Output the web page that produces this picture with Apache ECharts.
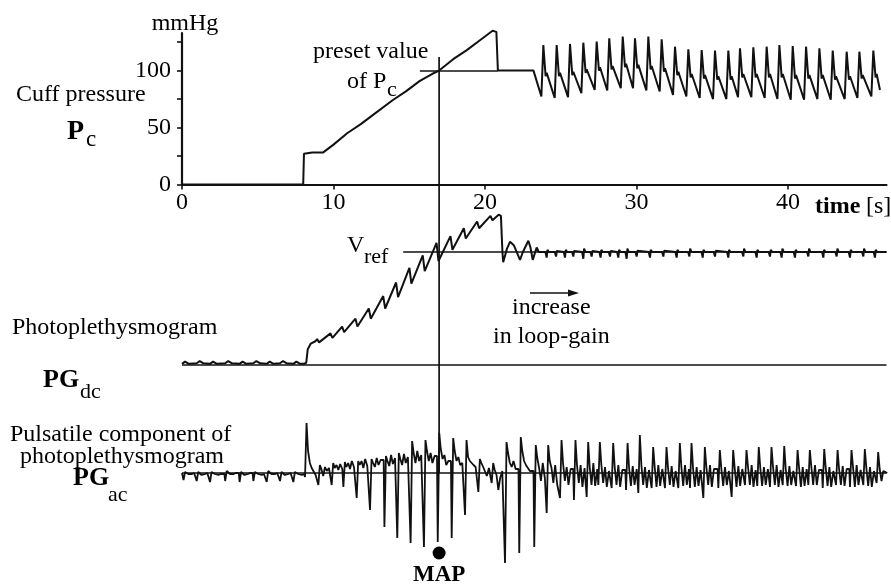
<!DOCTYPE html>
<html>
<head>
<meta charset="utf-8">
<script src="https://cdn.jsdelivr.net/npm/echarts@6/dist/echarts.min.js"></script>
<style>
html,body{margin:0;padding:0;background:#fff}
#c{width:891px;height:584px}
</style>
</head>
<body>
<div id="c"></div>
<script>
// ---------- Cuff pressure Pc (mmHg) ----------
// open-loop inflation ramp and hold at the preset value
const pcRampT = [0, 8.0, 8.05, 8.6, 9.3, 10.0, 10.9, 11.8, 12.7, 13.9, 14.8, 15.7, 16.5, 16.97, 17.9, 18.8, 19.6, 20.5, 20.75, 20.85, 23.2];
const pcRampV = [0, 0, 27, 28, 28, 35, 45, 53, 62, 74, 82, 91, 97, 100, 110, 118, 126, 135, 134, 100, 100];
// closed-loop beats: systolic peak instant, peak, preceding trough, dicrotic notch, rebound
const pcBeatT  = [23.85, 24.73, 25.61, 26.49, 27.37, 28.2, 29.09, 29.9, 30.78, 31.66, 32.54, 33.42, 34.3, 35.18, 36.06, 36.83, 37.71, 38.59, 39.43, 40.31, 41.19, 42.07, 42.95, 43.87, 44.71, 45.63];
const pcPeak   = [122.5, 122.5, 123.4, 124.5, 125.4, 128.3, 129.8, 128.3, 129.8, 127.5, 121, 118.6, 118.1, 117.5, 117.5, 119.5, 120.4, 121, 122.5, 121.6, 121, 119.5, 117.5, 116.6, 116.6, 117.5];
const pcTrough = [77.3, 75.9, 76.7, 80.2, 83.1, 82.5, 84.6, 84.6, 82.5, 81.6, 78.7, 77.3, 75.9, 75, 75, 76.7, 76.7, 75.9, 75, 74.4, 74.4, 75, 74.4, 75, 75.9, 77.3];
const pcNotch  = [95, 95, 96, 98, 100, 101, 103, 102, 101, 99, 96, 94, 93, 92, 92, 94, 94, 94, 94, 93, 93, 93, 92, 92, 93, 94];
const pcRebound = [98, 98, 99, 101, 103, 104, 106, 105, 104, 102, 99, 97, 96, 95, 95, 97, 97, 97, 97, 96, 96, 96, 95, 95, 96, 97];
const pcEnd = [46.07, 83];
const presetPc = 100;

// ---------- PGdc (arbitrary units: 0 = zero line, 100 = Vref) ----------
const vRef = 100;
const vRefStartT = 14.6;
const dcRestT    = [0, 0.97, 1.85, 2.85, 3.8, 4.71, 5.59, 6.47, 7.35];
const dcRestBase = [1, 1.5, 1, 1.5, 1, 1.5, 1, 1.5, 1];
const dcRestBump = [3, 3.5, 3, 3.5, 3, 3.5, 3, 3.5, 3];
const dcRiseT = [8.05, 8.2, 8.3, 8.5, 8.8];
const dcRiseV = [1, 2, 14, 19, 21];
const dcBeatT = [9.0, 9.88, 10.65, 11.53, 12.41, 13.36, 14.21, 15.09, 15.97, 16.88, 17.8, 18.68, 19.56, 20.44];
const dcHigh  = [23, 28, 34, 41, 50, 61, 73, 86, 97, 108, 114, 121, 127, 132];
const dcLow   = [20, 24, 29, 34, 41, 50, 60, 72, 83, 92, 102, 112, 121, 128];
const dcSwitchT = [20.9, 21.05, 21.15, 21.2, 21.45, 21.65, 21.9, 22.31, 22.5, 22.86, 23.0, 23.15, 23.41, 23.55];
const dcSwitchV = [133, 132, 100, 91, 103, 109, 106, 93, 100, 110, 104, 93, 104, 100];
const dcClampT    = [24.07, 24.69, 25.28, 25.83, 26.49, 27.04, 27.63, 28.25, 28.8, 29.35, 30.01, 30.89, 31.77, 32.65, 33.49, 34.37, 35.18, 36.06, 37.05, 37.93, 38.81, 39.58, 40.46, 41.34, 42.33, 43.21, 44.09, 44.97, 45.74];
const dcClampDip  = [95, 96, 95, 96, 94, 96, 95, 96, 95, 94, 96, 95, 96, 95, 96, 95, 96, 95, 96, 95, 96, 95, 95, 96, 95, 96, 95, 96, 95];
const dcClampBump = [102, 101, 102, 101, 103, 101, 102, 101, 102, 103, 101, 102, 101, 102, 103, 102, 101, 102, 103, 102, 102, 103, 102, 103, 102, 103, 102, 103, 102];

// ---------- PGac (arbitrary units, 0 = zero line) ----------
// per beat: trough instant, trough, peak, shoulder and four later samples
const acT = [0.1, 0.97, 1.85, 2.85, 3.8, 4.71, 5.59, 6.47, 7.35,
  8.12,
  9.0, 9.88, 10.65, 11.53, 12.41, 13.36, 14.21, 15.09, 15.97, 16.88, 17.8, 18.68, 19.56, 20.44,
  21.32, 22.26, 23.25,
  24.07, 24.95, 25.87, 26.71, 27.48, 28.36, 29.31, 30.12, 31.0, 31.88, 32.76, 33.53, 34.41, 35.4, 36.28, 37.16, 37.97, 38.81, 39.65, 40.53, 41.34, 42.29, 43.17, 44.09, 44.97, 45.85];
const acTrough = [-7, -8, -9, -8, -9, -8, -9, -8, -9,
  -4,
  -12, -12, -14, -25, -37, -54, -65, -70, -74, -69, -65, -42, -19, -10,
  -90, -80, -74,
  -40, -25, -27, -24, -12, -15, -17, -20, -15, -15, -15, -15, -25, -15, -24, -12, -13, -14, -12, -13, -12, -15, -12, -14, -12, -10];
const acPeak = [1, 1, 1, 2, 1, 1, 2, 1, 1,
  50,
  8, 10, 11, 12, 14, 17, 20, 32, 33, 40, 35, 33, 14, 10,
  31, 36, 28,
  28, 33, 33, 31, 31, 30, 30, 38, 26, 26, 30, 30, 26, 23, 23, 23, 26, 26, 27, 23, 23, 24, 23, 23, 24, 21];
const acShoulder = [0, 0, 0, 0, 0, 0, 0, 0, 0,
  22,
  4, 5, 6, 8, 10, 12, 14, 20, 22, 24, 22, 16, 10, 3,
  20, 22, 15,
  12, 10, 8, 6, 8, 6, 5, 8, 6, 5, 6, 5, 6, 4, 5, 6, 5, 6, 4, 5, 6, 5, 4, 6, 5, 4];
const acS1 = [-1, -2, -1, -1, -2, -1, -1, -2, -1,
  10,
  -3, 8, 10, 12, 6, 7, 8, 10, 12, 14, 12, 12, 6, -2,
  10, 12, 5,
  5, -8, -10, -12, -10, -12, -13, -12, -14, -12, -13, -14, -12, -13, -14, -12, -13, -12, -13, -14, -12, -13, -12, -14, -13, -8];
const acS2 = [0, -1, 0, 0, -1, 0, 0, -1, 0,
  5,
  6, 3, 4, 5, 15, 18, 19, 22, 20, 18, 16, 10, 4, -17,
  6, 8, -8,
  -10, 6, 8, 10, 6, 8, 7, 6, 8, 7, 8, 6, 8, 6, 7, 8, 6, 8, 7, 6, 8, 6, 7, 8, 6, 2];
const acS3 = [-1, -1, -2, -1, -1, -2, -1, -1, -2,
  3,
  2, 9, 12, 14, 8, 9, 10, 12, 10, 8, 8, 8, -3, -5,
  12, 10, 10,
  8, -12, -14, -13, -14, -14, -12, -15, -13, -14, -12, -13, -14, -12, -13, -14, -12, -14, -12, -13, -12, -14, -13, -12, -14, 0];
const acS4 = [0, 0, -1, 0, 0, -1, 0, 0, -1,
  -2,
  5, 4, 6, 7, 13, 15, 16, 18, 17, 12, 10, 6, 5, 2,
  4, 2, -5,
  -12, 4, 5, 4, 2, 3, 4, 3, 4, 2, 4, 3, 4, 2, 4, 3, 4, 3, 2, 4, 3, 2, 4, 3, 2, 0];

// mean arterial pressure marker
const mapT = 16.97;
const mapLevel = -80;

// axis ticks
const xTicks = [0, 10, 20, 30, 40];
const yTicks = [0, 25, 50, 75, 100, 125];
const yLabels = [0, 50, 100];
const X_MAX = 46.5;

// ---------- assemble the traces ----------
const pcData = pcRampT.map((t, i) => [t, pcRampV[i]]);
pcBeatT.forEach((t, i) => {
  pcData.push([t - 0.13, pcTrough[i]], [t, pcPeak[i]], [t + 0.15, pcNotch[i]], [t + 0.22, pcRebound[i]]);
});
pcData.push(pcEnd);

const dcData = [];
dcRestT.forEach((t, i) => {
  dcData.push([t, dcRestBase[i]], [t + 0.2, dcRestBump[i]], [t + 0.45, dcRestBase[i]]);
});
dcRiseT.forEach((t, i) => dcData.push([t, dcRiseV[i]]));
dcBeatT.forEach((t, i) => dcData.push([t - 0.08, dcHigh[i]], [t + 0.05, dcLow[i]]));
dcSwitchT.forEach((t, i) => dcData.push([t, dcSwitchV[i]]));
dcClampT.forEach((t, i) => {
  dcData.push([t - 0.08, vRef], [t, dcClampDip[i]], [t + 0.05, dcClampBump[i]], [t + 0.14, vRef]);
});
dcData.push([X_MAX, vRef]);

const acData = [[0, 0]];
acT.forEach((t, i) => {
  acData.push([t - 0.05, i ? acS4[i - 1] : 0], [t, acTrough[i]], [t + 0.1, acPeak[i]], [t + 0.2, acShoulder[i]],
              [t + 0.32, acS1[i]], [t + 0.44, acS2[i]], [t + 0.56, acS3[i]], [t + 0.7, acS4[i]]);
});

// ---------- chart ----------
const FONT = '"Liberation Serif", "Times New Roman", serif';
const INK = '#111';
const chart = echarts.init(document.getElementById('c'), null, {renderer: 'canvas'});

const traceStyle = {color: INK, width: 2};
const refLine = (a, b) => [{coord: a}, {coord: b}];
const markLineBase = {silent: true, symbol: 'none', label: {show: false}, lineStyle: {color: INK, width: 1.7, type: 'solid'}, animation: false};

const hiddenX = i => ({gridIndex: i, type: 'value', min: 0, max: X_MAX, show: false});

chart.setOption({
  animation: false,
  backgroundColor: '#fff',
  grid: [
    {left: 182, top: 33, width: 704.5, height: 151.5},
    {left: 182, top: 195.5, width: 704.5, height: 192.1},
    {left: 182, top: 413, width: 704.5, height: 160}
  ],
  xAxis: [
    {
      gridIndex: 0, type: 'value', min: 0, max: X_MAX,
      axisLine: {show: true, onZero: false, lineStyle: {color: INK, width: 2.2}},
      axisTick: {show: true, length: 5, customValues: xTicks, lineStyle: {color: INK, width: 1.6}},
      axisLabel: {customValues: xTicks, color: '#000', fontFamily: FONT, fontSize: 24, margin: 6},
      splitLine: {show: false}
    },
    hiddenX(1), hiddenX(2)
  ],
  yAxis: [
    {
      gridIndex: 0, type: 'value', min: 0, max: 133,
      axisLine: {show: true, onZero: false, lineStyle: {color: INK, width: 2.2}},
      axisTick: {show: true, length: 5, customValues: yTicks, lineStyle: {color: INK, width: 1.6}},
      axisLabel: {customValues: yLabels, color: '#000', fontFamily: FONT, fontSize: 24, margin: 11},
      splitLine: {show: false}
    },
    {gridIndex: 1, type: 'value', min: -20, max: 150, show: false},
    {gridIndex: 2, type: 'value', min: -100, max: 60, show: false}
  ],
  series: [
    {
      name: 'Pc', type: 'line', xAxisIndex: 0, yAxisIndex: 0, data: pcData,
      showSymbol: false, clip: false, lineStyle: traceStyle,
      markLine: Object.assign({}, markLineBase, {data: [refLine([15.7, presetPc], [20.85, presetPc])]})
    },
    {
      name: 'PGdc', type: 'line', xAxisIndex: 1, yAxisIndex: 1, data: dcData,
      showSymbol: false, clip: false, lineStyle: traceStyle,
      markLine: Object.assign({}, markLineBase, {data: [refLine([0, 0], [X_MAX, 0]), refLine([vRefStartT, vRef], [X_MAX, vRef])]})
    },
    {
      name: 'PGac', type: 'line', xAxisIndex: 2, yAxisIndex: 2, data: acData,
      showSymbol: false, clip: true, lineStyle: {color: INK, width: 1.8},
      markLine: Object.assign({}, markLineBase, {data: [refLine([0, 0], [X_MAX, 0])]})
    },
    {
      name: 'MAP', type: 'scatter', xAxisIndex: 2, yAxisIndex: 2, data: [[mapT, mapLevel]],
      symbolSize: 13, itemStyle: {color: '#000', opacity: 1},
      label: {show: true, position: 'bottom', distance: 4, formatter: 'MAP', color: '#000', opacity: 1,
              fontFamily: FONT, fontSize: 23, fontWeight: 'bold'}
    }
  ]
});

// ---------- annotations ----------
function txt(x, y, s, size, bold, align) {
  return {type: 'text', x: x, y: y, silent: true, z: 10,
    style: {text: s, font: (bold ? 'bold ' : '') + size + 'px ' + FONT, fill: '#000',
            align: align || 'left', verticalAlign: 'middle'}};
}

// vertical marker through the preset crossing, down to the PGac zero line
const pTop = chart.convertToPixel({gridIndex: 0}, [mapT, 112]);
const pBot = chart.convertToPixel({gridIndex: 2}, [mapT, 0]);

chart.setOption({
  graphic: [
    {type: 'line', silent: true, z: 5, shape: {x1: pTop[0], y1: pTop[1], x2: pBot[0], y2: pBot[1]},
     style: {stroke: INK, lineWidth: 1.7}},
    txt(185, 24, 'mmHg', 24, false, 'center'),
    txt(16, 95, 'Cuff pressure', 24),
    txt(67, 132, 'P', 28, true),
    txt(86, 140, 'c', 23),
    txt(313, 52, 'preset value', 24),
    txt(347, 82, 'of P', 24),
    txt(387, 90, 'c', 22),
    txt(347, 246, 'V', 24),
    txt(364, 257, 'ref', 22),
    txt(815, 207, 'time', 24, true),
    txt(866, 207, '[s]', 24),
    txt(512, 308, 'increase', 24),
    {type: 'line', silent: true, shape: {x1: 530, y1: 293, x2: 571, y2: 293}, style: {stroke: INK, lineWidth: 1.4}},
    {type: 'polygon', silent: true, shape: {points: [[579, 293], [568, 289.5], [568, 296.5]]}, style: {fill: INK}},
    txt(493, 337, 'in loop-gain', 24),
    txt(12, 328, 'Photoplethysmogram', 24),
    txt(43, 380, 'PG', 26, true),
    txt(80, 392, 'dc', 22),
    txt(10, 435, 'Pulsatile component of', 24),
    txt(20, 457, 'photoplethysmogram', 24),
    txt(73, 478, 'PG', 26, true),
    txt(108, 495, 'ac', 22)
  ]
});
</script>
</body>
</html>
